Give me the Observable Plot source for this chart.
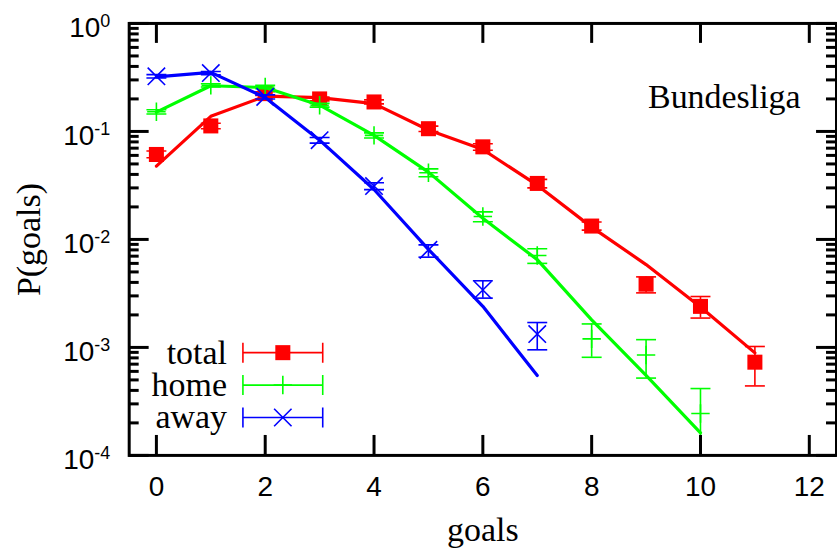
<!DOCTYPE html>
<html><head><meta charset="utf-8">
<script src="https://cdn.jsdelivr.net/npm/d3@7"></script>
<script src="https://cdn.jsdelivr.net/npm/@observablehq/plot@0.6"></script>
<style>html,body{margin:0;padding:0;background:#fff;overflow:hidden}</style>
</head><body><div id="chart"></div>
<script>
// ---- data ----
const seriesNames = ["total", "home", "away"];
const seriesColors = ["#ff0000", "#00ff00", "#0000ff"];

const totalGoals = [0,1,2,3,4,5,6,7,8,9,10,11];
const totalP  = [0.0612,0.1125,0.224,0.200,0.1875,0.106,0.072,0.033,0.0133,0.00385,0.0024,0.00073];
const totalLo = [0.057,0.106,0.215,0.192,0.180,0.100,0.067,0.030,0.0122,0.0032,0.00187,0.00044];
const totalHi = [0.066,0.119,0.233,0.208,0.196,0.112,0.077,0.036,0.0145,0.0045,0.00296,0.00102];
const totalFit = [0.0478,0.138,0.212,0.206,0.181,0.103,0.068,0.0318,0.0130,0.00585,0.00237,0.00089];

const homeGoals = [0,1,2,3,4,5,6,7,8,9,10];
const homeP  = [0.152,0.267,0.258,0.175,0.092,0.0414,0.0163,0.0071,0.0012,0.00085,0.000244];
const homeLo = [0.145,0.258,0.249,0.168,0.087,0.038,0.0146,0.0060,0.00081,0.00052,0.00007];
const homeHi = [0.159,0.276,0.267,0.182,0.097,0.045,0.0180,0.0082,0.00165,0.00118,0.000416];
const homeFit = [0.151,0.265,0.255,0.175,0.092,0.042,0.0157,0.0065,0.0018,0.00055,0.000162];

const awayGoals = [0,1,2,3,4,5,6,7];
const awayP  = [0.324,0.347,0.209,0.083,0.0312,0.0080,0.0034,0.00133];
const awayLo = [0.312,0.335,0.200,0.078,0.0289,0.00685,0.00286,0.00095];
const awayHi = [0.336,0.359,0.218,0.088,0.0335,0.0089,0.00414,0.0017];
const awayFit = [0.32,0.352,0.206,0.083,0.029,0.0081,0.0024,0.00055];

const xTicks = [0,2,4,6,8,10,12];
const yExponents = [-4,-3,-2,-1,0];
const yMinorMult = [2,3,4,5,6,7,8,9];
const xLabel = "goals";
const yLabel = "P(goals)";
const panelTitle = "Bundesliga";

// ---- layout ----
const W = 839, H = 550, mL = 129, mR = 1, mT = 23, mB = 94;
const plotW = W - mL - mR, plotH = H - mT - mB;
const sans = "'Liberation Sans', Arial, sans-serif";
const serif = "'Liberation Serif', 'DejaVu Serif', serif";

const yMajor = yExponents.map(e => 10 ** e);
const yMinor = yExponents.slice(0, -1).flatMap(e => yMinorMult.map(m => m * 10 ** e));

const series = [
  {name: seriesNames[0], color: seriesColors[0], gx: totalGoals, p: totalP, lo: totalLo, hi: totalHi, fit: totalFit},
  {name: seriesNames[1], color: seriesColors[1], gx: homeGoals, p: homeP, lo: homeLo, hi: homeHi, fit: homeFit},
  {name: seriesNames[2], color: seriesColors[2], gx: awayGoals, p: awayP, lo: awayLo, hi: awayHi, fit: awayFit}
];

const capSymbol = {draw(ctx) { ctx.moveTo(-10, 0); ctx.lineTo(10, 0); }};
const legendBarSymbol = {draw(ctx) {
  ctx.moveTo(-40, 0); ctx.lineTo(40, 0);
  ctx.moveTo(-40, -10); ctx.lineTo(-40, 10);
  ctx.moveTo(40, -10); ctx.lineTo(40, 10);
}};

function markerMarks(s, data, opts) {
  if (s.name === "total") return Plot.dot(data, {...opts, symbol: "square", r: 8.5, fill: s.color, stroke: "none"});
  if (s.name === "home") return Plot.dot(data, {...opts, symbol: "plus", r: 6, fill: "none", stroke: s.color, strokeWidth: 1.6});
  return Plot.dot(data, {...opts, symbol: "times", r: 8, fill: "none", stroke: s.color, strokeWidth: 1.6});
}

const marks = [];
series.forEach((s, i) => {
  const rows = s.gx.map((g, j) => ({x: g, p: s.p[j], lo: s.lo[j], hi: s.hi[j]}));
  const fitRows = s.fit.map((f, j) => ({x: s.gx[j], f}));
  marks.push(
    Plot.ruleX(rows, {x: "x", y1: "lo", y2: "hi", stroke: s.color, strokeWidth: 1.6, clip: true}),
    Plot.dot(rows, {x: "x", y: "lo", symbol: capSymbol, fill: "none", stroke: s.color, strokeWidth: 1.6, clip: true}),
    Plot.dot(rows, {x: "x", y: "hi", symbol: capSymbol, fill: "none", stroke: s.color, strokeWidth: 1.6, clip: true}),
    markerMarks(s, rows, {x: "x", y: "p"}),
    Plot.line(fitRows, {x: "x", y: "f", stroke: s.color, strokeWidth: 3.2})
  );
  // legend
  const dy = 330 + i * 32.5;
  marks.push(
    Plot.text([s.name], {frameAnchor: "top-left", dx: 98, dy, text: d => d, textAnchor: "end", lineAnchor: "middle", fontFamily: serif, fontSize: 34, fill: "black"}),
    Plot.dot([s.name], {frameAnchor: "top-left", dx: 154, dy, symbol: legendBarSymbol, fill: "none", stroke: s.color, strokeWidth: 1.6}),
    markerMarks(s, [s.name], {frameAnchor: "top-left", dx: 154, dy})
  );
});

const chart = Plot.plot({
  width: W, height: H,
  marginLeft: mL, marginRight: mR, marginTop: mT, marginBottom: mB,
  style: {fontFamily: sans, background: "white", overflow: "visible"},
  x: {domain: [-0.5, 12.5], axis: null},
  y: {type: "log", domain: [1e-4, 1], axis: null},
  marks: [
    ...marks,
    // ticks (inward, mirrored)
    Plot.tickX(xTicks, {x: d => d, insetTop: plotH - 20, strokeWidth: 3, stroke: "black"}),
    Plot.tickX(xTicks, {x: d => d, insetBottom: plotH - 20, strokeWidth: 3, stroke: "black"}),
    Plot.tickY(yMajor, {y: d => d, insetRight: plotW - 20, strokeWidth: 3, stroke: "black"}),
    Plot.tickY(yMajor, {y: d => d, insetLeft: plotW - 20, strokeWidth: 3, stroke: "black"}),
    Plot.tickY(yMinor, {y: d => d, insetRight: plotW - 10, strokeWidth: 3, stroke: "black"}),
    Plot.tickY(yMinor, {y: d => d, insetLeft: plotW - 10, strokeWidth: 3, stroke: "black"}),
    Plot.frame({strokeWidth: 3, stroke: "black"}),
    // tick labels
    Plot.text(xTicks, {x: d => d, frameAnchor: "bottom", text: d => String(d), lineAnchor: "top", dy: 21, fontSize: 28, fontFamily: sans, fill: "black"}),
    Plot.text(yExponents, {y: e => 10 ** e, frameAnchor: "left", text: e => `10^${e}`, textAnchor: "end", lineAnchor: "middle", dx: -19, dy: 4.7, fontSize: 28, fontFamily: sans, fill: "black"}),
    // axis labels and title
    Plot.text([xLabel], {frameAnchor: "bottom", text: d => d, textAnchor: "middle", lineAnchor: "middle", dy: 75, fontSize: 34, fontFamily: serif, fill: "black"}),
    Plot.text([yLabel], {frameAnchor: "middle", text: d => d, rotate: -90, textAnchor: "middle", lineAnchor: "middle", dx: 29 - (mL + plotW / 2), fontSize: 34, fontFamily: serif, fill: "black"}),
    Plot.text([panelTitle], {frameAnchor: "top-right", text: d => d, textAnchor: "end", lineAnchor: "middle", dx: -36, dy: 73.5, fontSize: 34, fontFamily: serif, fill: "black"})
  ]
});

// superscript exponents
let yLabelNode = null;
d3.select(chart).selectAll("text").each(function() {
  if (this.textContent === yLabel) { this.setAttribute("text-anchor", "middle"); yLabelNode = this; return; }
  const m = /^10\^(-?\d+)$/.exec(this.textContent);
  if (!m) return;
  const t = d3.select(this);
  t.text("10");
  t.append("tspan").attr("dy", -10).attr("font-size", 18).text(m[1]);
});

document.getElementById("chart").appendChild(chart);

// centre the rotated y label on the frame's vertical middle
if (yLabelNode) {
  const svgTop = chart.getBoundingClientRect().top;
  const r = yLabelNode.getBoundingClientRect();
  const shift = (mT + (H - mB)) / 2 - (r.top - svgTop + r.height / 2);
  const tr = yLabelNode.getAttribute("transform") || "";
  yLabelNode.setAttribute("transform", `translate(0,${shift.toFixed(1)}) ${tr}`);
}
</script>
</body></html>
